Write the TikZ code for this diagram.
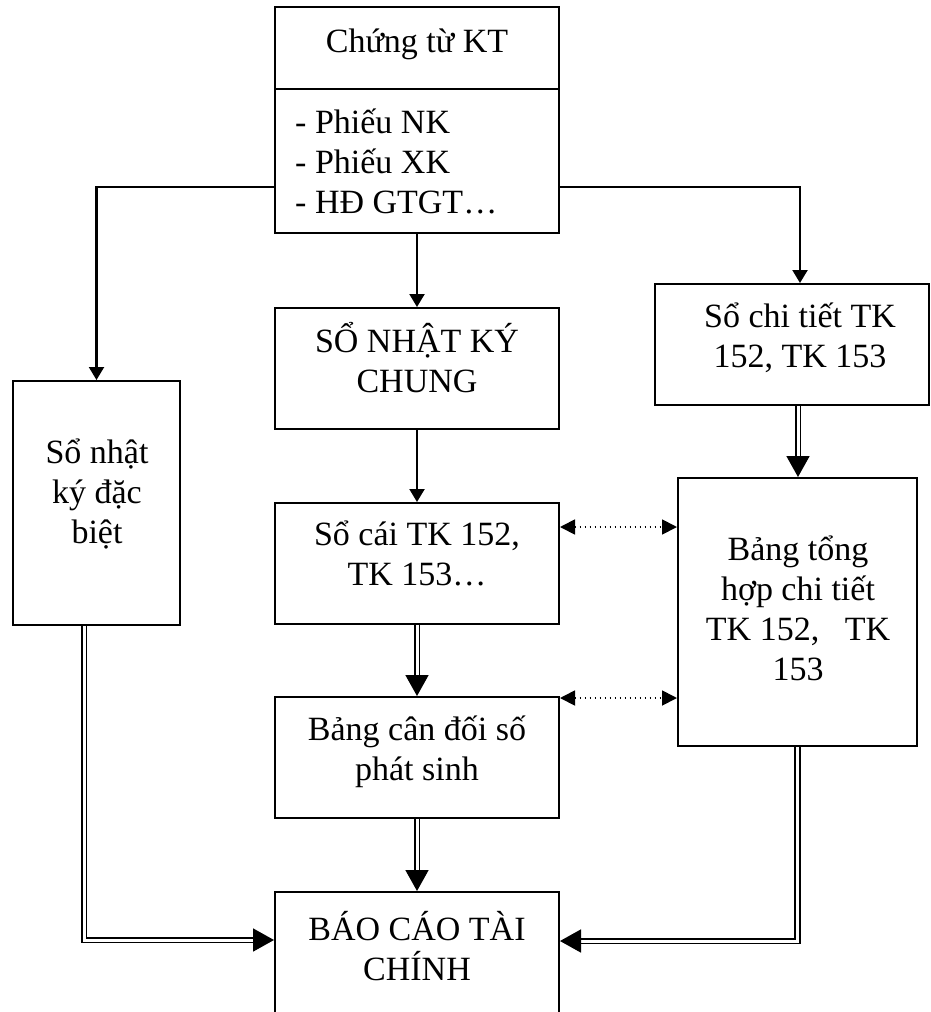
\documentclass[tikz,border=0pt]{standalone}
\usepackage{fontspec}
\setmainfont{Liberation Serif}
\usetikzlibrary{arrows.meta}
\begin{document}
\begin{tikzpicture}[x=1pt,y=-1pt,
  box/.style={draw, line width=2pt, inner sep=0pt},
  txt/.style={font=\fontsize{34}{40}\selectfont, inner sep=0pt, align=center, anchor=base},
  arr/.style={line width=2.2pt, -{Triangle[length=13pt,width=15pt]}},
  dblarr/.style={line width=1.7pt, double, double distance=3pt, -{Triangle[length=21pt,width=23pt]}},
  dotarr/.style={line width=1.8pt, dash pattern=on 1.8pt off 3.2pt, {Triangle[length=15pt,width=15pt]}-{Triangle[length=15pt,width=15pt]}}
]
\clip (0,0) rectangle (931,1012);
\fill[white] (0,0) rectangle (931,1012);

% boxes
\node[box, minimum width=284pt, minimum height=82pt]  (ct)   at (417,48) {};
\node[box, minimum width=284pt, minimum height=144pt] (ctl)  at (417,161) {};
\node[box, minimum width=284pt, minimum height=121pt] (snkc) at (417,368.5) {};
\node[box, minimum width=284pt, minimum height=121pt] (sc)   at (417,563.5) {};
\node[box, minimum width=284pt, minimum height=121pt] (bcd)  at (417,757.5) {};
\node[box, minimum width=284pt, minimum height=148pt] (bctc) at (417,966) {};
\node[box, minimum width=167pt, minimum height=244pt] (sndb) at (96.5,503) {};
\node[box, minimum width=274pt, minimum height=121pt] (sct)  at (792,344.5) {};
\node[box, minimum width=239pt, minimum height=268pt] (bth)  at (797.5,612) {};

% texts (base anchor = baseline of the last line)
\node[txt] (t-ct) at (417,52) {Chứng từ KT};
\node[txt, align=left, anchor=base west] (t-ctl) at (295,213) {- Phiếu NK\\- Phiếu XK\\- HĐ GTGT…};
\node[txt] (t-snkc) at (417,392) {SỔ NHẬT KÝ\\CHUNG};
\node[txt] (t-sc) at (417,585) {Sổ cái TK 152,\\TK 153…};
\node[txt] (t-bcd) at (417,780) {Bảng cân đối số\\phát sinh};
\node[txt] (t-bctc) at (417,980) {BÁO CÁO TÀI\\CHÍNH};
\node[txt] (t-sndb) at (97,543) {Sổ nhật\\ký đặc\\biệt};
\node[txt] (t-sct) at (800,367) {Sổ chi tiết TK\\152, TK 153};
\node[txt] (t-bth) at (798,680) {Bảng tổng\\hợp chi tiết\\TK 152,\ \ \ TK\\153};

% connectors
\draw[arr] (ctl.west |- 0,187) -| (sndb.north);
\draw[arr] (ctl.east |- 0,187) -| (sct.north -| 800,0);
\draw[arr] (ctl.south) -- (snkc.north);
\draw[arr] (snkc.south) -- (sc.north);
\draw[dblarr] (sc.south) -- (bcd.north);
\draw[dblarr] (bcd.south) -- (bctc.north);
\draw[dblarr] (sct.south -| 798,0) -- (bth.north -| 798,0);
\draw[dotarr] (sc.east |- 0,527) -- (bth.west |- 0,527);
\draw[dotarr] (bcd.east |- 0,698) -- (bth.west |- 0,698);
\draw[dblarr] (sndb.south -| 84,0) |- (bctc.west |- 0,940);
\draw[dblarr] (bth.south) |- (bctc.east |- 0,941);
\end{tikzpicture}
\end{document}
